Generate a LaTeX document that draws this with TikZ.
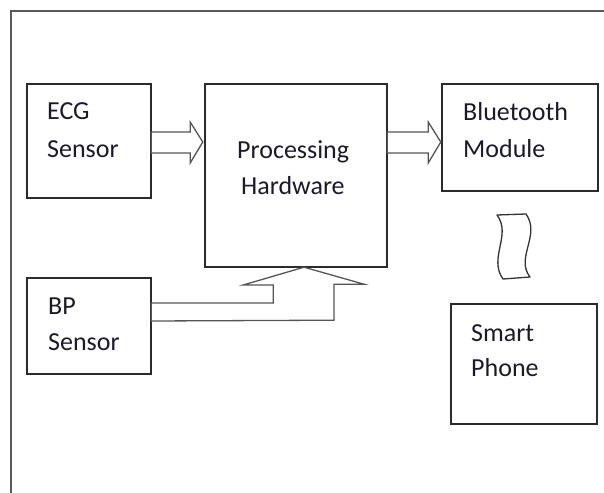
\documentclass[tikz,border=0pt]{standalone}
\usepackage{fontspec}
\setmainfont{Carlito}
\usetikzlibrary{calc}
\definecolor{framegray}{HTML}{595959}
\definecolor{arrowgray}{HTML}{555555}
\definecolor{boxline}{HTML}{2B2B2B}
\definecolor{txt}{HTML}{1A1A2A}
\tikzset{
  blockbox/.style={draw=boxline, line width=1.3pt},
  lbl/.style={anchor=base west, inner sep=0pt, font=\fontsize{26}{36}\selectfont, text=txt},
  blockarrow/.style={draw=arrowgray, line width=1.3pt, line join=miter, fill=white},
}
\begin{document}
\begin{tikzpicture}[x=1pt, y=-1pt]
\useasboundingbox (0,0) rectangle (604,492);
% outer frame
\begin{scope}
\clip (0,0) rectangle (604,492);
\draw[draw=framegray, line width=1.8pt] (11,11) rectangle (620,510);
\end{scope}
% boxes
\draw[blockbox] (27,84) rectangle (151,198);
\node[inner sep=0pt, minimum width=124pt, minimum height=114pt] (ecg) at (89,141) {};
\draw[blockbox] (205,84) rectangle (387,267);
\node[inner sep=0pt, minimum width=182pt, minimum height=183pt] (proc) at (296,175.5) {};
\draw[blockbox] (442,84) rectangle (598,191);
\node[inner sep=0pt, minimum width=156pt, minimum height=107pt] (bt) at (520,137.5) {};
\draw[blockbox] (27,278) rectangle (151,374);
\node[inner sep=0pt, minimum width=124pt, minimum height=96pt] (bp) at (89,326) {};
\draw[blockbox] (451,304) rectangle (597,424);
\node[inner sep=0pt, minimum width=146pt, minimum height=120pt] (sp) at (524,364) {};
% labels
\node[lbl] (t1) at (47,119) {ECG};
\node[lbl] (t2) at (47,157) {Sensor};
\node[lbl] (t3) at (237,158) {Processing};
\node[lbl] (t4) at (241,194) {Hardware};
\node[lbl] (t5) at (463,121) {Bluetooth};
\node[lbl] (t6) at (463,157) {Module};
\node[lbl] (t7) at (48,314) {BP};
\node[lbl] (t8) at (48,350) {Sensor};
\node[lbl] (t9) at (471,341) {Smart};
\node[lbl] (t10) at (471,376) {Phone};
% arrow row
\coordinate (a1) at ($(ecg.east)+(0,1)$);
\coordinate (a1t) at (proc.west |- a1);
\coordinate (a2) at (proc.east |- a1);
\coordinate (a2t) at (bt.west |- a1);
% ECG -> Processing block arrow
\draw[blockarrow]
  ($(a1)+(0,-10)$) -- ++(39,0) -- ++(0,-10) -- ($(a1t)+(-2,0)$)
  -- ($(a1)+(39,21)$) -- ++(0,-10) -- ($(a1)+(0,11)$) -- cycle;
% Processing -> Bluetooth block arrow
\draw[blockarrow]
  ($(a2)+(0,-10)$) -- ++(41,0) -- ++(0,-10) -- ($(a2t)+(-1,0)$)
  -- ($(a2)+(41,21)$) -- ++(0,-10) -- ($(a2)+(0,11)$) -- cycle;
% BP -> Processing block arrow
\draw[blockarrow]
  ($(bp.east)+(0,-23)$) -- ++(122,0) -- ++(0,-18) -- ++(-30,0)
  -- ($(proc.south)+(8,0)$) -- ++(60,17) -- ++(-30,0) -- ++(0,36)
  -- ($(bp.east)+(0,-5)$) -- cycle;
% wireless link squiggle
\draw[draw=black!80, line width=1.3pt, line join=round]
  (497,215) -- (526,214)
  .. controls (541,235) and (515,258) .. (530,277)
  -- (503,279)
  .. controls (488,258) and (512,235) .. (497,215) -- cycle;
\end{tikzpicture}
\end{document}
